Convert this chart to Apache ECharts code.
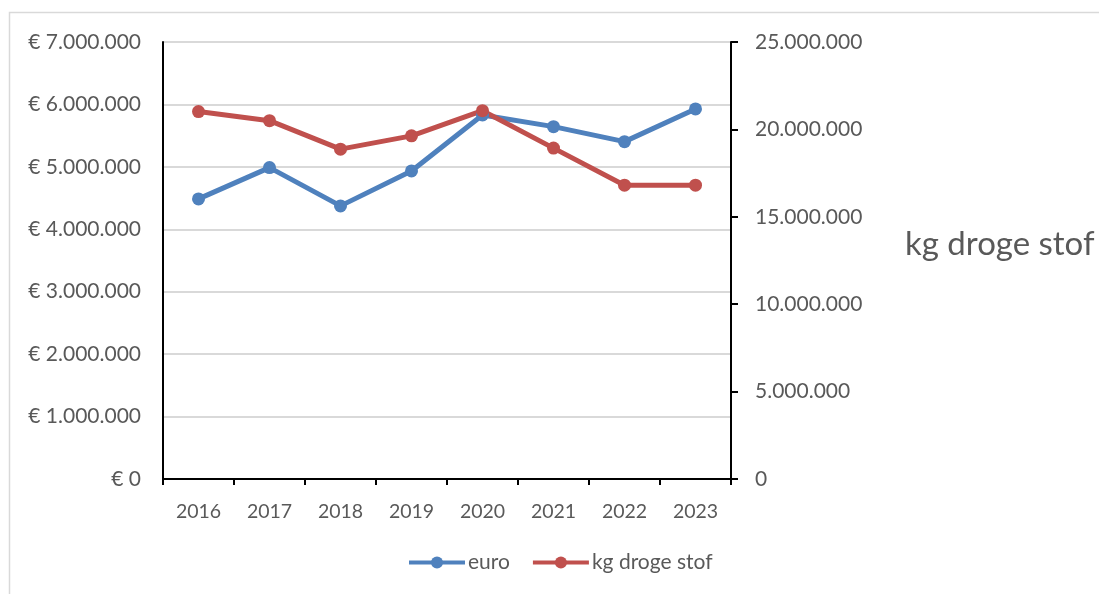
<!DOCTYPE html>
<html><head><meta charset="utf-8">
<script src="https://cdn.jsdelivr.net/npm/echarts@6/dist/echarts.min.js"></script>
<style>html,body{margin:0;padding:0;background:#fff;overflow:hidden}#c{width:1099px;height:594px;overflow:hidden}</style>
</head><body><div id="c"></div>
<script>
const years = ['2016','2017','2018','2019','2020','2021','2022','2023'];
const euro = [4487000, 4988000, 4375000, 4935000, 5832000, 5644000, 5404000, 5928000];
const kgDrogeStof = [21020000, 20500000, 18870000, 19630000, 21070000, 18930000, 16810000, 16810000];
const seriesNames = ['euro', 'kg droge stof'];

function dots(v){ return String(Math.round(v)).replace(/\B(?=(\d{3})+(?!\d))/g, '.'); }
const FONT = 'Lato, "Open Sans", sans-serif';
const TXT = '#595959';
const chart = echarts.init(document.getElementById('c'));
chart.setOption({
  animation:false,
  textStyle:{fontFamily:FONT},
  graphic:[{type:'rect',shape:{x:9.5,y:12.5,width:1200,height:700},style:{fill:'none',stroke:'#d9d9d9',lineWidth:1.5},silent:true,z:-1}],
  grid:{left:163,right:368,top:42,bottom:115},
  legend:{bottom:16,left:402,itemWidth:56,itemHeight:15,itemGap:21,
    lineStyle:{width:4},
    textStyle:{color:TXT,fontSize:21,fontFamily:FONT,padding:[0,0,0,-2]},data:seriesNames},
  xAxis:{type:'category',data:years,boundaryGap:true,
    axisLine:{lineStyle:{color:'#000',width:2}},
    axisTick:{show:true,length:6,lineStyle:{color:'#000',width:2}},
    axisLabel:{color:TXT,fontSize:19.5,margin:23,fontFamily:FONT},
    splitLine:{show:false}},
  yAxis:[{type:'value',min:0,max:7000000,interval:1000000,position:'left',
    axisLine:{show:true,lineStyle:{color:'#000',width:2}},
    axisTick:{show:false},
    axisLabel:{color:TXT,fontSize:21,margin:22,fontFamily:FONT,formatter:v=>'€ '+dots(v)},
    splitLine:{show:true,lineStyle:{color:'#d9d9d9',width:2}}},
   {type:'value',min:0,max:25000000,interval:5000000,position:'right',
    name:'kg droge stof',nameLocation:'middle',nameRotate:0,nameGap:174,
    nameTextStyle:{color:TXT,fontSize:33,fontFamily:FONT,align:'left',verticalAlign:'bottom'},
    axisLine:{show:true,lineStyle:{color:'#000',width:2}},
    axisTick:{show:true,length:7,lineStyle:{color:'#000',width:2}},
    axisLabel:{color:TXT,fontSize:21,margin:24,fontFamily:FONT,formatter:v=>dots(v)},
    splitLine:{show:false}}],
  series:[
    {name:seriesNames[0],type:'line',yAxisIndex:0,data:euro,symbol:'circle',symbolSize:13,
     lineStyle:{color:'#4f81bd',width:5},itemStyle:{color:'#4f81bd'}},
    {name:seriesNames[1],type:'line',yAxisIndex:1,data:kgDrogeStof,symbol:'circle',symbolSize:13,
     lineStyle:{color:'#c0504d',width:5},itemStyle:{color:'#c0504d'}}
  ]
});
</script></body></html>
